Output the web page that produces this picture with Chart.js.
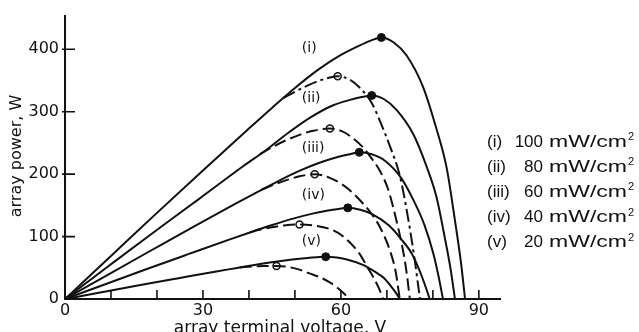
<!DOCTYPE html>
<html>
<head>
<meta charset="utf-8">
<script src="https://cdn.jsdelivr.net/npm/chart.js@4.4.1/dist/chart.umd.min.js"></script>
<style>
  html, body { margin: 0; padding: 0; background: #fff; }
</style>
</head>
<body>
<canvas id="myChart" width="639" height="332"></canvas>
<script>
// solid curves (cool array), voltage V / power W
const vCool100 = [0, 10, 20, 30, 40, 45, 50, 55, 60, 64, 66.5, 68.8, 71.5, 74.3, 77.9, 80.6, 83, 84.8, 86.1, 87];
const pCool100 = [0, 69, 138, 206, 273, 306, 338, 367, 391, 406, 414, 419, 411, 390, 339, 277, 210, 126, 59, 0];
const vCool80 = [0, 9.7, 19.3, 29.1, 38.8, 43.6, 48.5, 53.4, 58.2, 62, 64.5, 66.7, 69.4, 72.1, 75.75, 78.5, 80.8, 82.6, 83.9, 84.8];
const pCool80 = [0, 54, 107, 160, 213, 238, 266, 291, 310, 319, 323.5, 326, 320, 303, 264, 215, 163, 98, 46, 0];
const vCool60 = [0, 9.3, 18.6, 27.9, 37.2, 41.9, 46.5, 51.2, 55.8, 59.5, 61.9, 64, 66.7, 69.5, 73.1, 75.8, 78.2, 80.2, 81.3, 82.2];
const pCool60 = [0, 38.8, 77.3, 115.6, 153, 171.5, 189.4, 206, 219.5, 228, 232, 235, 232, 222, 194, 158, 118, 70, 34, 0];
const vCool40 = [0, 8.9, 17.8, 26.8, 35.7, 40.2, 44.7, 49.2, 53.6, 57.2, 59.5, 61.5, 64.2, 66.8, 70.4, 73.1, 75.4, 77.2, 78.4, 79.3];
const pCool40 = [0, 24.1, 48, 71.8, 95.2, 106.6, 117.7, 128, 136.4, 141.6, 144.2, 146, 143, 136, 118, 96, 73, 44, 20, 0];
const vCool20 = [0, 8.2, 16.4, 24.7, 32.9, 37.1, 41.2, 45.4, 49.4, 52.7, 54.8, 56.7, 59.1, 61.5, 64.8, 67.2, 69.3, 70.9, 72, 72.8];
const pCool20 = [0, 11.2, 22.3, 33.3, 44.1, 49.4, 54.6, 59.4, 63.2, 65.7, 66.9, 67.7, 66.3, 63, 54.8, 44.7, 33.9, 20.3, 9.5, 0];

// dashed curves (hot array), they leave the solid curve at the first point
const vHot100 = [47.5, 50, 52.5, 55, 57.2, 59.3, 62, 64.7, 66.7, 68.5, 70.7, 72.8, 74.6, 76, 77.2];
const pHot100 = [322, 332, 341, 349, 354, 357, 351, 334, 314, 285, 244, 198, 130, 65, 0];
const vHot80 = [42.4, 45, 48, 51, 54, 57.6, 60.2, 62, 64.8, 66.5, 68.5, 70.3, 72, 73.5, 74.3, 75];
const pHot80 = [232, 243, 254, 263, 269.5, 273, 269, 261, 243, 227, 205, 175, 128, 78, 42, 0];
const vHot60 = [42.8, 45, 48, 51, 54.3, 57.6, 60, 62, 64.8, 66.8, 68.5, 70.7, 71.9, 72.8];
const pHot60 = [175, 182, 190, 196.5, 200, 194, 185, 174, 153, 135, 115, 77, 44, 0];
const vHot40 = [40.2, 42, 45, 48, 51, 54, 57.6, 60, 62, 64, 65.6, 67.2, 68.4, 69.2];
const pHot40 = [106.6, 110.5, 115, 118.3, 119.5, 118, 112, 103, 90, 73, 53, 33, 15, 0];
const vHot20 = [38, 41, 43.5, 46, 48, 51, 53, 55.4, 57.5, 59, 60.5, 61.9];
const pHot20 = [50.5, 52.2, 52.9, 53, 52, 47, 41.5, 35, 27, 19.5, 10, 0];

// maximum power points
const peakCoolV = [68.8, 66.7, 64, 61.5, 56.7];
const peakCoolP = [419, 326, 235, 146, 67.7];
const peakHotV = [59.3, 57.6, 54.3, 51, 46];
const peakHotP = [357, 273, 200, 119.5, 53];

// axes
const xLabelTicks = [0, 30, 60, 90];
const xMarkTicks = [10, 20, 30, 40, 50, 60, 70, 80, 90];
const yLabelTicks = [0, 100, 200, 300, 400];

// curve tags and right-hand key
const tags = ['(i)', '(ii)', '(iii)', '(iv)', '(v)'];
const tagP = [402, 322, 241, 166, 93];
const irradiance = [100, 80, 60, 40, 20];

const ink = '#111';

function pts(vs, ps) {
    return vs.map((v, i) => ({ x: v, y: ps[i] }));
}

const coolSets = [[vCool100, pCool100], [vCool80, pCool80], [vCool60, pCool60], [vCool40, pCool40], [vCool20, pCool20]];
const hotSets = [[vHot100, pHot100], [vHot80, pHot80], [vHot60, pHot60], [vHot40, pHot40], [vHot20, pHot20]];

const datasets = [];
coolSets.forEach(s => {
    datasets.push({
        data: pts(s[0], s[1]),
        borderColor: ink,
        borderWidth: 2,
        pointRadius: 0,
        cubicInterpolationMode: 'monotone',
        fill: false
    });
});
hotSets.forEach((s, i) => {
    datasets.push({
        data: pts(s[0], s[1]),
        borderColor: ink,
        borderWidth: 2,
        borderDash: i === 0 ? [13, 4, 3, 4] : [12, 5],
        pointRadius: 0,
        cubicInterpolationMode: 'monotone',
        fill: false
    });
});
datasets.push({
    data: pts(peakCoolV, peakCoolP),
    showLine: false,
    pointRadius: 4,
    pointBackgroundColor: ink,
    pointBorderColor: ink,
    pointBorderWidth: 1
});
datasets.push({
    data: pts(peakHotV, peakHotP),
    showLine: false,
    pointRadius: 3.5,
    pointBackgroundColor: '#fff',
    pointBorderColor: ink,
    pointBorderWidth: 1.5
});

// extra drawing: inward ticks, curve tags, axis titles, key
const decor = {
    id: 'decor',
    afterDraw(chart) {
        const ctx = chart.ctx;
        const xs = chart.scales.x, ys = chart.scales.y;
        const x0 = xs.getPixelForValue(0), y0 = ys.getPixelForValue(0);
        ctx.save();
        ctx.strokeStyle = ink;
        ctx.lineWidth = 1.6;
        ctx.beginPath();
        xMarkTicks.forEach(v => {
            const px = xs.getPixelForValue(v);
            ctx.moveTo(px, y0);
            ctx.lineTo(px, y0 - 9);
        });
        yLabelTicks.slice(1).forEach(v => {
            const py = ys.getPixelForValue(v);
            ctx.moveTo(x0 - 3, py);
            ctx.lineTo(x0 + 10, py);
        });
        ctx.stroke();

        ctx.fillStyle = ink;
        ctx.font = '14px "DejaVu Sans"';
        ctx.textAlign = 'left';
        ctx.textBaseline = 'middle';
        tags.forEach((t, i) => {
            ctx.fillText(t, xs.getPixelForValue(51.5), ys.getPixelForValue(tagP[i]));
        });

        // axis titles
        ctx.font = '17px "DejaVu Sans"';
        ctx.textAlign = 'center';
        ctx.textBaseline = 'alphabetic';
        ctx.fillText('array terminal voltage, V', 280, 333);
        ctx.save();
        ctx.translate(21, 156);
        ctx.rotate(-Math.PI / 2);
        ctx.font = '16px "DejaVu Sans"';
        ctx.fillText('array power, W', 0, 0);
        ctx.restore();

        // key on the right
        ctx.textBaseline = 'middle';
        tags.forEach((t, i) => {
            const y = 142 + i * 25.2;
            ctx.font = '17px "Liberation Sans"';
            ctx.textAlign = 'left';
            ctx.fillText(t, 487, y);
            ctx.textAlign = 'right';
            ctx.fillText(String(irradiance[i]), 543, y);
            ctx.textAlign = 'left';
            const unit = 'mW/cm';
            const w = ctx.measureText(unit).width;
            ctx.save();
            ctx.translate(549, y);
            ctx.scale(78 / w, 1);
            ctx.fillText(unit, 0, 0);
            ctx.restore();
            ctx.font = '11px "Liberation Sans"';
            ctx.fillText('2', 628, y - 5);
        });
        ctx.restore();
    }
};

const myChart = new Chart(document.getElementById('myChart').getContext('2d'), {
    type: 'line',
    data: { datasets: datasets },
    options: {
        responsive: false,
        animation: false,
        devicePixelRatio: 1,
        layout: { padding: { top: 10, right: 139, left: 0, bottom: 0 } },
        plugins: {
            legend: { display: false },
            tooltip: { enabled: false }
        },
        scales: {
            x: {
                type: 'linear',
                min: 0,
                max: 94.6,
                afterFit(s) { s.height = 33; },
                afterBuildTicks(s) { s.ticks = xLabelTicks.map(v => ({ value: v })); },
                grid: { display: true, drawOnChartArea: false, drawTicks: false },
                border: { color: ink, width: 2 },
                ticks: {
                    color: ink,
                    font: { family: 'DejaVu Sans', size: 16 },
                    padding: 2,
                    maxRotation: 0,
                    autoSkip: false
                }
            },
            y: {
                type: 'linear',
                min: 0,
                max: 454,
                afterFit(s) { s.width = 65; },
                afterBuildTicks(s) { s.ticks = yLabelTicks.map(v => ({ value: v })); },
                grid: { display: true, drawOnChartArea: false, drawTicks: false },
                border: { color: ink, width: 2 },
                ticks: {
                    color: ink,
                    font: { family: 'DejaVu Sans', size: 16 },
                    padding: 6
                }
            }
        }
    },
    plugins: [decor]
});
</script>
</body>
</html>
